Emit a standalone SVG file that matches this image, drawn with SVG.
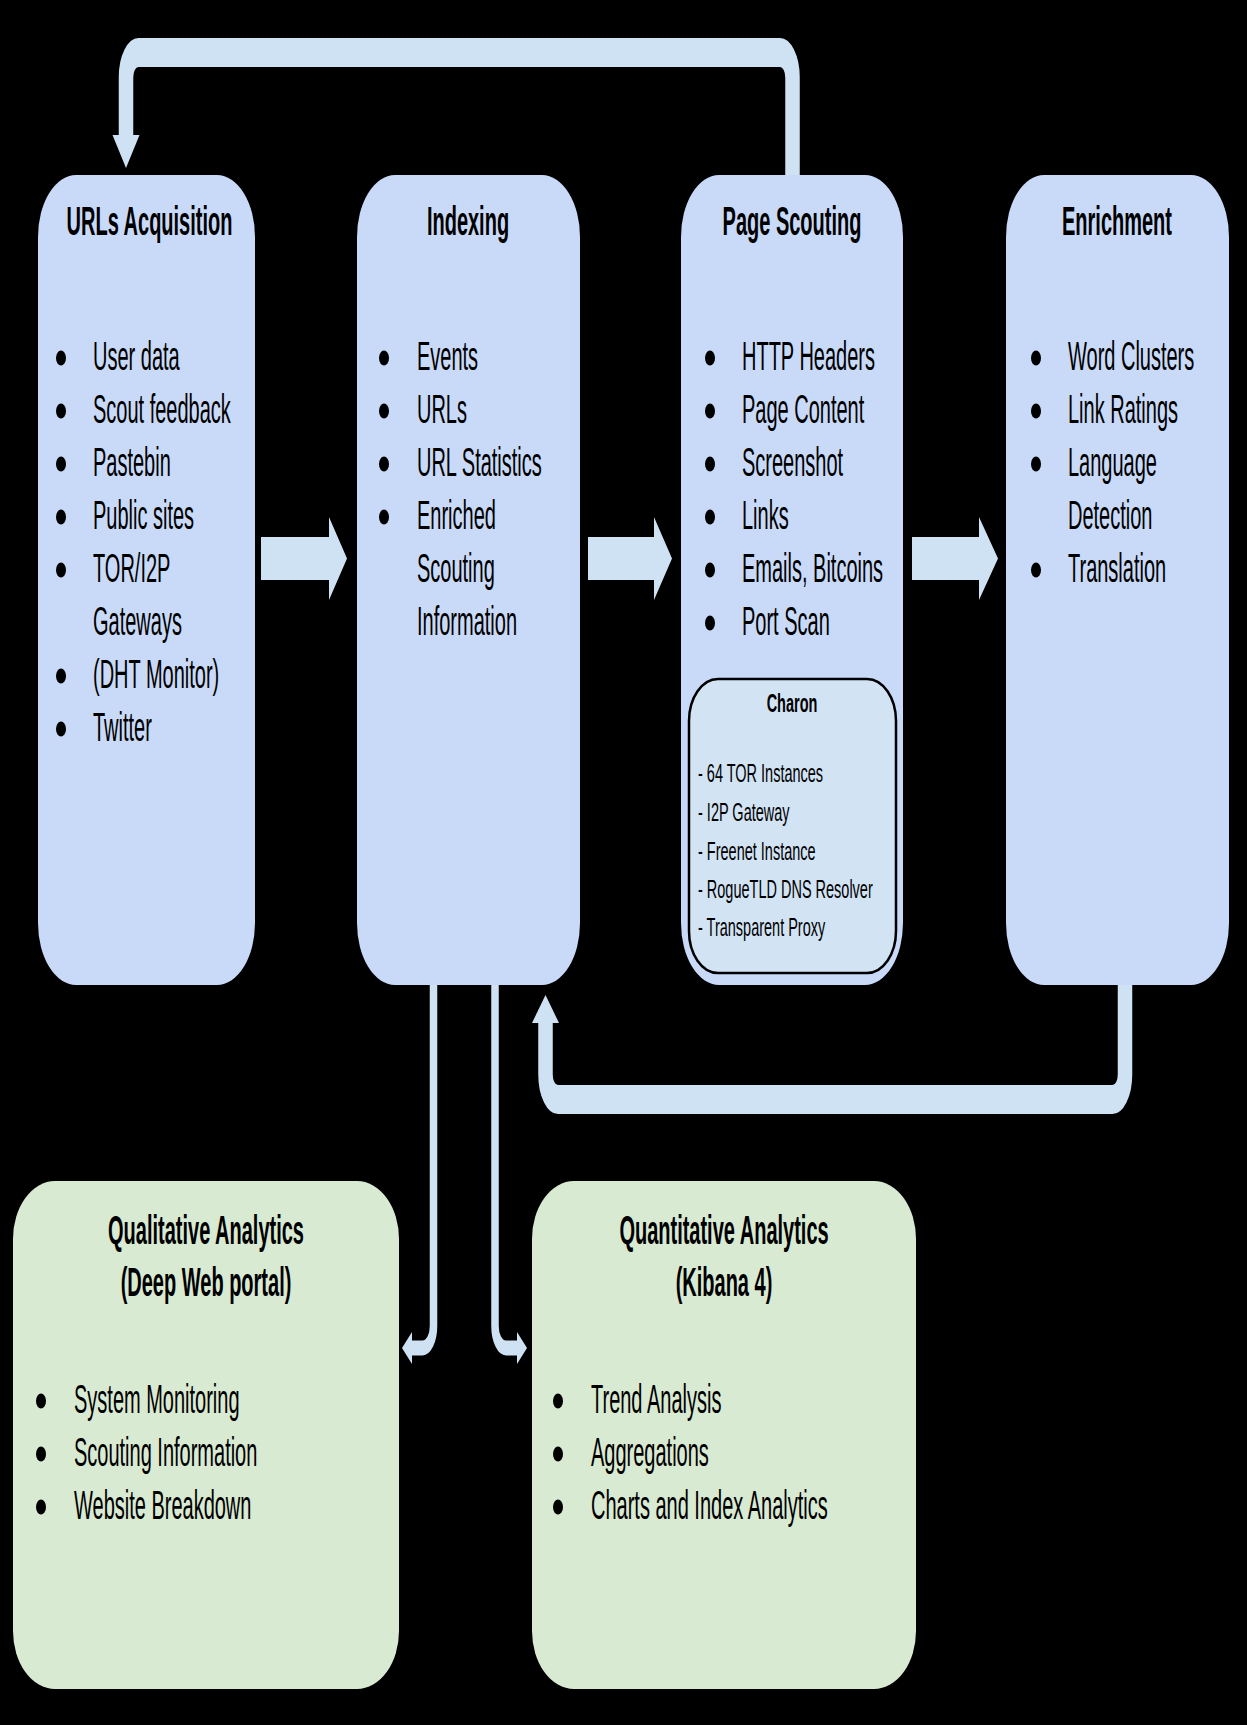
<svg xmlns="http://www.w3.org/2000/svg" width="1247" height="1725" viewBox="0 0 1247 1725">
<style>
text{font-family:"Liberation Sans",Arial,Helvetica,sans-serif;fill:#000}
.t{font-size:40px;font-weight:bold;text-anchor:middle}
.b{font-size:40px}
.ct{font-size:25px;font-weight:bold;text-anchor:middle}
.c{font-size:25px}
.blue{fill:#c9daf8}
.green{fill:#d9ead3}
.charon{fill:#d2e3f4;stroke:#000;stroke-width:2.5}
.dot{fill:#000}
.band{fill:none;stroke:#cfe2f3}
.head,.barrow{fill:#cfe2f3}
</style>
<rect width="1247" height="1725" fill="#000"/>

<g id="connectors">
  <polygon class="barrow" points="261,537 329,537 329,517 347,558.5 329,600 329,580 261,580"/>
  <polygon class="barrow" points="588,537 654,537 654,517 672,558.5 654,600 654,580 588,580"/>
  <polygon class="barrow" points="912,537 979,537 979,517 998,558.5 979,600 979,580 912,580"/>
  <g transform="scale(0.5,1)">
    <path class="band" stroke-width="29" d="M1585,175 V77.5 A25,25 0 0 0 1560,52.5 H277 A25,25 0 0 0 252,77.5 V137"/>
    <polygon class="head" points="225,135 279,135 252,168"/>
    <path class="band" stroke-width="29" d="M2250,985 V1074.5 A25,25 0 0 1 2225,1099.5 H1116 A25,25 0 0 1 1091,1074.5 V1020"/>
    <polygon class="head" points="1064,1023 1118,1023 1091,995"/>
    <path class="band" stroke-width="15" d="M867,985 V1326 A22,22 0 0 1 845,1348 H822"/>
    <polygon class="head" points="824,1332 824,1364 804,1348"/>
    <path class="band" stroke-width="15" d="M990,985 V1326 A22,22 0 0 0 1012,1348 H1036"/>
    <polygon class="head" points="1034,1332 1034,1364 1054,1348"/>
  </g>
</g>

<g id="urls-acquisition">
  <rect class="blue" x="38" y="175" width="217" height="810" rx="38" ry="62"/>
  <text class="t" transform="translate(149.5,235) scale(0.5,1)">URLs Acquisition</text>
  <ellipse class="dot" cx="61" cy="358" rx="5" ry="7.5"/>
  <text class="b" transform="translate(93,370) scale(0.5,1)">User data</text>
  <ellipse class="dot" cx="61" cy="411" rx="5" ry="7.5"/>
  <text class="b" transform="translate(93,423) scale(0.5,1)">Scout feedback</text>
  <ellipse class="dot" cx="61" cy="464" rx="5" ry="7.5"/>
  <text class="b" transform="translate(93,476) scale(0.5,1)">Pastebin</text>
  <ellipse class="dot" cx="61" cy="517" rx="5" ry="7.5"/>
  <text class="b" transform="translate(93,529) scale(0.5,1)">Public sites</text>
  <ellipse class="dot" cx="61" cy="570" rx="5" ry="7.5"/>
  <text class="b" transform="translate(93,582) scale(0.5,1)">TOR/I2P</text>
  <text class="b" transform="translate(93,635) scale(0.5,1)">Gateways</text>
  <ellipse class="dot" cx="61" cy="676" rx="5" ry="7.5"/>
  <text class="b" transform="translate(93,688) scale(0.5,1)">(DHT Monitor)</text>
  <ellipse class="dot" cx="61" cy="729" rx="5" ry="7.5"/>
  <text class="b" transform="translate(93,741) scale(0.5,1)">Twitter</text>
</g>

<g id="indexing">
  <rect class="blue" x="357" y="175" width="223" height="810" rx="38" ry="62"/>
  <text class="t" transform="translate(468,235) scale(0.5,1)">Indexing</text>
  <ellipse class="dot" cx="384" cy="358" rx="5" ry="7.5"/>
  <text class="b" transform="translate(417,370) scale(0.5,1)">Events</text>
  <ellipse class="dot" cx="384" cy="411" rx="5" ry="7.5"/>
  <text class="b" transform="translate(417,423) scale(0.5,1)">URLs</text>
  <ellipse class="dot" cx="384" cy="464" rx="5" ry="7.5"/>
  <text class="b" transform="translate(417,476) scale(0.5,1)">URL Statistics</text>
  <ellipse class="dot" cx="384" cy="517" rx="5" ry="7.5"/>
  <text class="b" transform="translate(417,529) scale(0.5,1)">Enriched</text>
  <text class="b" transform="translate(417,582) scale(0.5,1)">Scouting</text>
  <text class="b" transform="translate(417,635) scale(0.5,1)">Information</text>
</g>

<g id="page-scouting">
  <rect class="blue" x="681" y="175" width="222" height="810" rx="38" ry="62"/>
  <text class="t" transform="translate(792,235) scale(0.5,1)">Page Scouting</text>
  <ellipse class="dot" cx="710" cy="358" rx="5" ry="7.5"/>
  <text class="b" transform="translate(742,370) scale(0.5,1)">HTTP Headers</text>
  <ellipse class="dot" cx="710" cy="411" rx="5" ry="7.5"/>
  <text class="b" transform="translate(742,423) scale(0.5,1)">Page Content</text>
  <ellipse class="dot" cx="710" cy="464" rx="5" ry="7.5"/>
  <text class="b" transform="translate(742,476) scale(0.5,1)">Screenshot</text>
  <ellipse class="dot" cx="710" cy="517" rx="5" ry="7.5"/>
  <text class="b" transform="translate(742,529) scale(0.5,1)">Links</text>
  <ellipse class="dot" cx="710" cy="570" rx="5" ry="7.5"/>
  <text class="b" transform="translate(742,582) scale(0.5,1)">Emails, Bitcoins</text>
  <ellipse class="dot" cx="710" cy="623" rx="5" ry="7.5"/>
  <text class="b" transform="translate(742,635) scale(0.5,1)">Port Scan</text>
</g>

<g id="charon">
  <rect class="charon" x="689" y="679" width="207" height="294" rx="29" ry="42"/>
  <text class="ct" transform="translate(792,712) scale(0.58,1)">Charon</text>
  <text class="c" transform="translate(698,782) scale(0.58,1)">- 64 TOR Instances</text>
  <text class="c" transform="translate(698,821) scale(0.58,1)">- I2P Gateway</text>
  <text class="c" transform="translate(698,860) scale(0.58,1)">- Freenet Instance</text>
  <text class="c" transform="translate(698,898) scale(0.58,1)">- RogueTLD DNS Resolver</text>
  <text class="c" transform="translate(698,936) scale(0.58,1)">- Transparent Proxy</text>
</g>

<g id="enrichment">
  <rect class="blue" x="1006" y="175" width="223" height="810" rx="38" ry="62"/>
  <text class="t" transform="translate(1117,235) scale(0.5,1)">Enrichment</text>
  <ellipse class="dot" cx="1036" cy="358" rx="5" ry="7.5"/>
  <text class="b" transform="translate(1068,370) scale(0.5,1)">Word Clusters</text>
  <ellipse class="dot" cx="1036" cy="411" rx="5" ry="7.5"/>
  <text class="b" transform="translate(1068,423) scale(0.5,1)">Link Ratings</text>
  <ellipse class="dot" cx="1036" cy="464" rx="5" ry="7.5"/>
  <text class="b" transform="translate(1068,476) scale(0.5,1)">Language</text>
  <text class="b" transform="translate(1068,529) scale(0.5,1)">Detection</text>
  <ellipse class="dot" cx="1036" cy="570" rx="5" ry="7.5"/>
  <text class="b" transform="translate(1068,582) scale(0.5,1)">Translation</text>
</g>

<g id="qualitative-analytics">
  <rect class="green" x="13" y="1181" width="386" height="508" rx="42" ry="58"/>
  <text class="t" transform="translate(206,1244) scale(0.5,1)">Qualitative Analytics</text>
  <text class="t" transform="translate(206,1296) scale(0.5,1)">(Deep Web portal)</text>
  <ellipse class="dot" cx="41" cy="1401" rx="5" ry="7.5"/>
  <text class="b" transform="translate(74,1413) scale(0.5,1)">System Monitoring</text>
  <ellipse class="dot" cx="41" cy="1454" rx="5" ry="7.5"/>
  <text class="b" transform="translate(74,1466) scale(0.5,1)">Scouting Information</text>
  <ellipse class="dot" cx="41" cy="1507" rx="5" ry="7.5"/>
  <text class="b" transform="translate(74,1519) scale(0.5,1)">Website Breakdown</text>
</g>

<g id="quantitative-analytics">
  <rect class="green" x="532" y="1181" width="384" height="508" rx="42" ry="58"/>
  <text class="t" transform="translate(724,1244) scale(0.5,1)">Quantitative Analytics</text>
  <text class="t" transform="translate(724,1296) scale(0.5,1)">(Kibana 4)</text>
  <ellipse class="dot" cx="558" cy="1401" rx="5" ry="7.5"/>
  <text class="b" transform="translate(591,1413) scale(0.5,1)">Trend Analysis</text>
  <ellipse class="dot" cx="558" cy="1454" rx="5" ry="7.5"/>
  <text class="b" transform="translate(591,1466) scale(0.5,1)">Aggregations</text>
  <ellipse class="dot" cx="558" cy="1507" rx="5" ry="7.5"/>
  <text class="b" transform="translate(591,1519) scale(0.5,1)">Charts and Index Analytics</text>
</g>
</svg>
